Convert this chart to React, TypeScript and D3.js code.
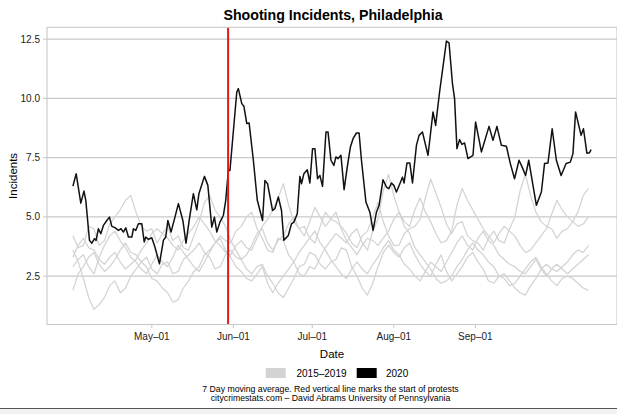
import React from "react";
import * as d3 from "d3";

// ---- data ----
const protestDay = 59; // days after Apr 1 (May 30)
const xTickDates = ["2020-05-01", "2020-06-01", "2020-07-01", "2020-08-01", "2020-09-01"];
const yTicks = [2.5, 5.0, 7.5, 10.0, 12.5];

// 2020 series: day offset from Apr 1 and 7-day avg value
const days2020 = [0,1.25,3,4.2,4.9,6.3,7.2,8.2,8.8,9.7,10.6,11.6,12.9,13.9,14.8,16.1,17.3,18.3,19.2,20.1,21.1,22.4,23,23.9,24.9,26.2,27.1,27.7,28.7,30,31.2,32.9,34.4,35.3,36.1,37.3,38.8,40.1,41.8,43,44.2,45.8,47.1,47.9,50,51.3,52.8,53.8,54.7,55.9,57.2,58.1,59.1,59.7,62.3,62.9,64.2,65,66.1,67,68.6,70.1,72.1,73,74,75.9,76.8,78.1,79.3,80.2,81.9,83.1,84,85.3,86.3,86.9,87.8,89.1,90.1,91.1,92,93,93.9,94.9,96.2,97,98.1,99.2,100,100.8,101.9,103.1,104.3,105.5,106.5,107.8,108.8,109.7,111.4,112.9,114.1,115.4,116.4,117.9,119.2,120.1,121.1,122,123,124.3,125.3,125.9,127,128.1,129.1,130.6,131.6,132.9,135,136.9,137.9,139.4,142,143,144.3,145.1,146,147,147.9,148.9,150.2,152.1,153.1,155.3,158.2,159.7,161.2,162.9,164.8,166.3,167.9,169.6,170.8,172.1,173.3,176.2,178.1,179.3,180.6,182.2,183.8,185.6,187.5,189.1,190.1,191.1,193.2,194.1,195.4,196.4,197];
const values2020 = [6.30,6.82,5.58,6.09,5.70,4.01,3.89,4.08,4.01,4.50,4.29,4.64,4.85,4.99,4.60,4.54,4.43,4.50,4.36,4.54,4.15,4.15,4.50,4.43,4.71,4.71,3.94,4.15,4.05,4.12,3.72,3.02,4.01,4.15,4.85,4.36,4.99,5.56,4.85,3.89,4.85,5.98,5.30,5.98,6.71,6.33,4.57,4.99,4.36,4.78,5.06,5.70,6.96,6.96,10.27,10.41,9.78,9.67,8.94,8.96,7.39,5.70,4.85,6.54,6.40,5.27,5.35,5.84,5.27,4.01,4.22,4.71,4.78,5.13,6.71,6.40,6.82,6.99,6.43,7.88,7.88,6.61,6.75,6.29,8.58,8.58,7.39,7.17,7.53,7.46,7.60,6.15,7.10,7.95,8.30,8.54,8.54,7.39,5.63,5.20,4.43,5.20,5.49,6.57,6.26,6.19,6.43,6.33,6.05,6.40,6.68,6.43,7.27,7.27,6.43,8.02,8.44,8.58,7.60,9.43,8.86,10.27,12.42,12.34,10.62,9.99,7.88,8.26,8.06,8.12,7.46,7.60,9.00,7.74,8.82,8.23,8.82,8.02,7.98,7.25,6.61,7.39,7.10,6.75,7.39,5.49,6.05,7.25,7.27,8.72,7.39,6.75,7.25,7.31,7.67,9.43,8.44,8.72,7.69,7.71,7.84];

// 2015-2019 series, every 2 days from Apr 1 (day 0 .. 196)
const priorStep = 2;
const values2015 = [4.2,3.7,3.8,4.6,4.5,3.8,4.0,4.7,5.0,5.3,5.7,5.9,5.2,4.6,4.4,4.5,3.9,4.3,4.6,4.0,4.2,3.7,3.6,4.2,4.8,5.6,5.9,5.3,5.0,4.6,4.0,3.6,3.2,3.4,3.8,4.3,4.5,3.9,3.6,4.0,4.2,4.7,5.0,4.5,4.6,4.1,3.9,4.6,5.2,4.9,4.8,4.6,4.3,3.9,3.7,4.2,4.4,5.0,5.6,4.8,4.2,3.8,3.8,4.3,4.5,4.6,4.9,5.8,6.6,6.0,5.4,4.7,4.3,4.7,4.8,4.2,4.0,3.9,3.6,4.1,4.4,4.0,3.9,4.5,5.0,6.1,6.8,5.9,5.2,4.8,4.6,4.5,4.1,4.4,4.5,4.8,5.2,5.9,6.2];
const values2016 = [3.6,3.1,2.4,1.6,1.1,1.3,1.6,2.1,2.3,1.8,2.0,2.5,2.8,3.1,3.3,2.8,2.6,3.0,3.1,2.6,2.7,3.2,3.4,3.6,3.9,3.5,3.3,2.8,2.9,3.4,3.6,3.3,3.2,2.8,2.6,2.9,3.0,2.5,2.2,1.8,1.6,2.0,2.4,2.9,3.0,3.5,3.4,3.0,2.8,3.1,3.2,3.7,3.6,2.9,2.5,2.0,1.7,2.2,2.9,3.5,3.8,3.5,3.3,3.7,3.9,3.4,3.0,2.7,2.5,3.0,3.4,2.7,2.3,2.6,2.9,3.3,3.5,3.1,2.8,2.3,2.2,2.5,2.6,2.3,2.0,1.8,1.7,2.1,2.4,2.8,3.0,2.8,2.7,2.9,3.1,3.4,3.6,3.5,3.8];
const values2017 = [1.9,2.6,2.9,3.3,3.5,3.0,2.7,2.9,3.2,3.6,3.9,3.5,3.4,3.1,2.9,2.4,2.3,2.0,1.8,1.4,1.5,2.0,2.3,2.7,2.9,3.4,3.6,3.9,4.2,4.0,3.9,4.4,4.6,5.0,5.2,4.5,4.1,3.6,3.5,4.1,4.0,3.4,3.1,2.6,2.5,2.9,2.8,3.3,3.7,4.0,4.3,4.1,3.9,4.3,4.5,3.9,3.6,4.4,4.9,6.1,6.8,5.9,5.2,4.6,4.3,3.7,3.4,3.1,2.8,2.4,2.2,2.3,2.5,2.9,3.2,3.6,3.9,3.6,3.4,3.1,2.9,2.5,2.4,2.1,2.2,2.5,2.8,3.1,3.3,2.9,2.6,2.3,2.1,2.4,2.5,2.4,2.2,2.0,1.9];
const values2018 = [3.3,3.8,4.1,3.7,3.6,3.2,3.0,3.3,3.5,3.1,2.8,3.0,3.2,3.6,3.9,4.3,4.5,4.3,4.1,3.8,3.6,4.0,4.3,4.6,5.0,4.7,4.4,4.0,3.8,3.5,3.4,3.8,4.0,3.7,3.6,4.1,4.6,4.9,5.3,5.8,6.4,5.5,4.8,4.5,4.2,4.8,5.4,5.0,4.6,4.9,5.2,4.5,4.0,3.7,3.4,3.8,4.1,4.0,3.8,4.1,4.4,4.9,5.2,4.8,4.6,5.3,5.8,5.2,4.8,4.3,3.9,4.0,4.4,5.5,6.2,5.7,5.3,4.9,4.5,4.2,3.9,4.3,4.6,4.4,4.2,3.8,3.5,3.6,3.9,4.2,4.5,5.1,5.7,5.3,5.0,4.8,4.6,4.7,5.0];
const values2019 = [2.9,3.2,3.4,2.9,2.6,3.3,3.8,4.2,4.4,4.0,3.7,3.3,3.1,2.8,2.6,3.0,3.4,3.1,2.9,3.3,3.8,3.5,3.2,2.9,2.7,3.1,3.5,3.9,4.1,3.6,3.3,2.9,2.7,2.4,2.3,2.6,2.9,2.2,1.8,2.2,2.5,2.8,3.1,3.5,3.8,4.1,4.4,3.9,3.6,3.2,2.9,2.6,2.4,2.8,3.1,2.8,2.6,3.0,3.3,3.7,4.0,3.6,3.4,3.0,2.8,2.5,2.3,2.7,3.1,2.9,2.7,3.1,3.5,3.9,4.2,3.8,3.6,4.1,4.4,4.0,3.8,3.4,3.2,3.0,2.9,2.7,2.6,2.9,3.2,2.8,2.5,2.8,3.0,2.8,2.6,2.8,3.0,3.2,3.4];
const priorSeries = [values2015, values2016, values2017, values2018, values2019];

const legendLabels = ["2015\u20132019", "2020"];
const titleText = "Shooting Incidents, Philadelphia";
const captionLines = [
  "7 Day moving average. Red vertical line marks the start of protests",
  "citycrimestats.com \u2013  David Abrams University of Pennsylvania",
];

// ---- layout ----
const W = 617, H = 414;
const P = { left: 47, right: 617, top: 27.3, bottom: 324.5 };
const DAY = 86400000;
const start = Date.UTC(2020, 3, 1);
const toDate = (d: number) => new Date(start + d * DAY);
const FONT = "'Liberation Sans', Arial, Helvetica, sans-serif";
const GREY = "#d3d3d3";
const GRID = "#c9c9c9";

export default function App() {
  const x = d3.scaleUtc().domain([toDate(-9.85), toDate(206.85)]).range([P.left, P.right]);
  const y = d3.scaleLinear().domain([0.46, 13.0]).range([P.bottom, P.top]);
  const line = d3.line<[number, number]>().x(d => x(toDate(d[0]))).y(d => y(d[1]));
  const fmt = d3.utcFormat("%b\u2013%d");
  const ticks = xTickDates.map(s => new Date(s + "T00:00:00Z"));

  return (
    <svg width={W} height={H} style={{ position: "absolute", left: 0, top: 0, background: "#fff" }} fontFamily={FONT}>
      <rect x={0} y={0} width={W} height={H} fill="#fff" />
      <text x={333} y={19.5} textAnchor="middle" fontSize={14.2} fontWeight="bold" fill="#000">{titleText}</text>
      {/* grid */}
      {yTicks.map(t => (
        <g key={t}>
          <line x1={P.left} x2={P.right} y1={y(t)} y2={y(t)} stroke={GRID} strokeWidth={1.3} />
          <line x1={P.left - 4} x2={P.left} y1={y(t)} y2={y(t)} stroke={GRID} strokeWidth={1.1} />
          <text x={40} y={y(t)} dy="0.35em" textAnchor="end" fontSize={10} fill="#222">{t.toFixed(1)}</text>
        </g>
      ))}
      {/* prior years */}
      {priorSeries.map((vals, i) => (
        <path key={i} d={line(vals.map((v, j) => [j * priorStep, v] as [number, number])) || ""} fill="none" stroke={GREY} strokeWidth={1.25} strokeLinejoin="round" />
      ))}
      {/* 2020 */}
      <path d={line(days2020.map((d, j) => [d, values2020[j]] as [number, number])) || ""} fill="none" stroke="#111" strokeWidth={1.5} strokeLinejoin="round" />
      {/* protest line */}
      <line x1={x(toDate(protestDay))} x2={x(toDate(protestDay))} y1={P.top} y2={P.bottom} stroke="#e0191b" strokeWidth={2} />
      {/* panel border */}
      <rect x={P.left} y={P.top} width={P.right - P.left} height={P.bottom - P.top} fill="none" stroke={GRID} strokeWidth={1.1} />
      {/* x axis */}
      {ticks.map((t, i) => (
        <g key={i}>
          <line x1={x(t)} x2={x(t)} y1={P.bottom} y2={P.bottom + 3.5} stroke={GRID} strokeWidth={1.1} />
          <text x={x(t)} y={339.5} textAnchor="middle" fontSize={10} fill="#222">{fmt(t)}</text>
        </g>
      ))}
      <text x={332} y={357.5} textAnchor="middle" fontSize={11.5} fill="#000">Date</text>
      <text transform={`translate(17,${(P.top + P.bottom) / 2}) rotate(-90)`} textAnchor="middle" fontSize={11.5} fill="#000">Incidents</text>
      {/* legend */}
      <rect x={265.7} y={368} width={20} height={10} fill={GREY} />
      <text x={296.5} y={376.5} fontSize={10} fill="#000">{legendLabels[0]}</text>
      <rect x={356.7} y={368} width={20} height={10} fill="#000" />
      <text x={386} y={376.5} fontSize={10} fill="#000">{legendLabels[1]}</text>
      {/* caption */}
      {captionLines.map((c, i) => (
        <text key={i} x={330.5} y={392 + i * 8.5} textAnchor="middle" fontSize={8.7} fill="#000">{c}</text>
      ))}
      <line x1={0} x2={W} y1={408.5} y2={408.5} stroke="#555" strokeWidth={1} />
      <rect x={0} y={409} width={W} height={5} fill="#f2f2f2" />
    </svg>
  );
}
